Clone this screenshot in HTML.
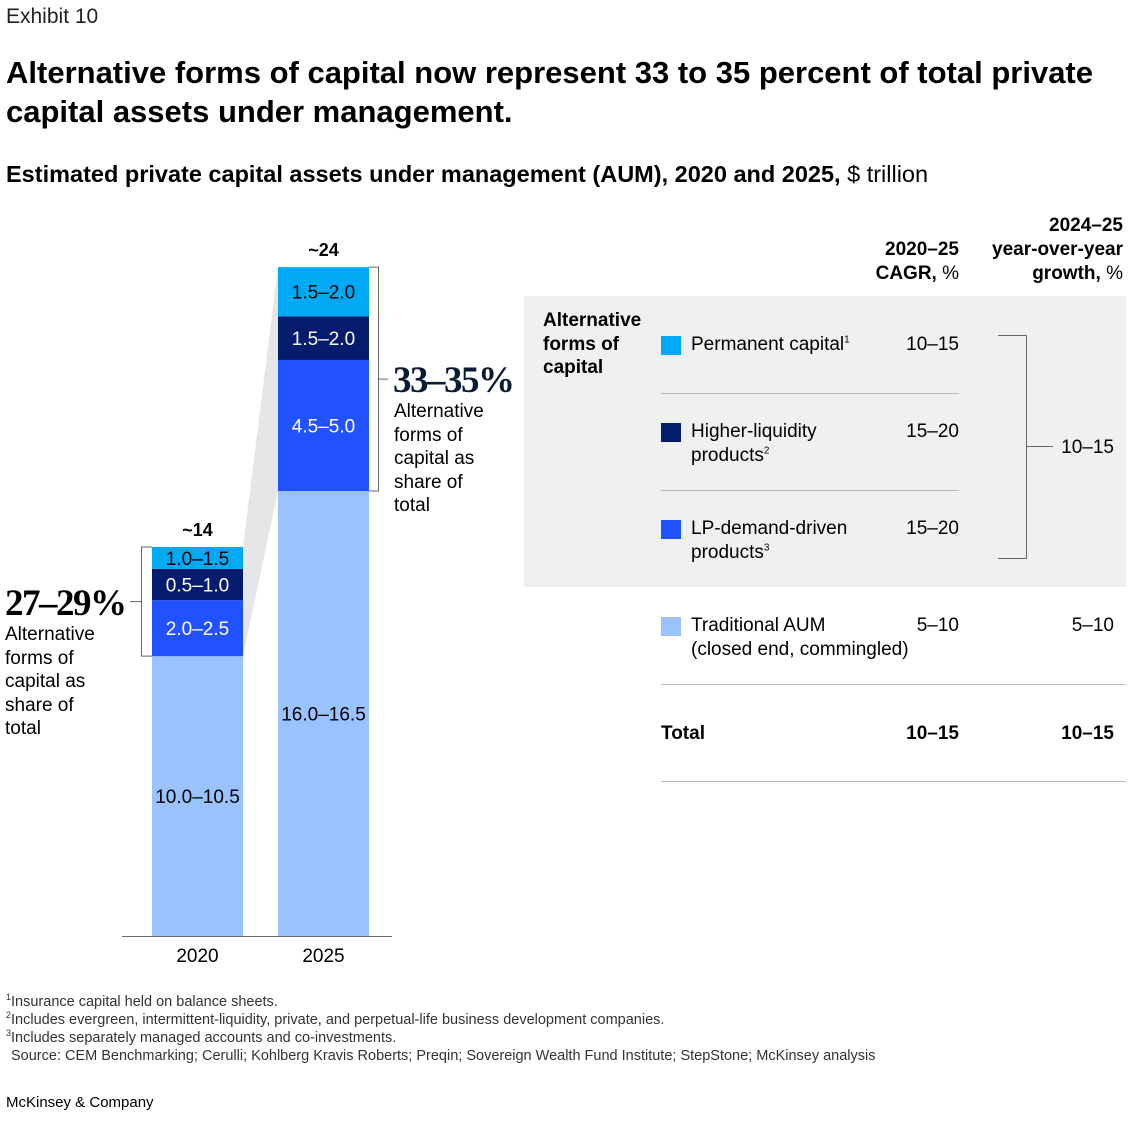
<!DOCTYPE html>
<html><head><meta charset="utf-8"><style>
body{margin:0;width:1138px;height:1124px;background:#fff;font-family:"Liberation Sans",sans-serif;color:#000;position:relative;overflow:hidden}
.a{position:absolute;white-space:nowrap}
.t{font-size:19px;line-height:24px}
.b{font-weight:bold}
.r{text-align:right}
.fn{font-size:14.5px;color:#333}
sup{line-height:0}
</style></head><body>
<div class="a" style="left:6px;top:5px;font-size:21px;color:#222">Exhibit 10</div>
<div class="a b" style="left:6px;top:53px;font-size:31px;line-height:39px;white-space:normal;width:1115px">Alternative forms of capital now represent 33 to 35 percent of total private capital assets under management.</div>
<div class="a" style="left:6px;top:161px;font-size:23.5px"><b>Estimated private capital assets under management (AUM), 2020 and 2025,</b> $ trillion</div>

<svg class="a" style="left:0;top:0" width="1138" height="1124" id="chart"></svg>

<div class="a" style="left:5px;top:582px;font-family:'Liberation Serif',serif;font-size:37px;font-weight:bold;letter-spacing:-1.5px">27–29%</div>
<div class="a t" style="left:5px;top:623px;line-height:23.5px">Alternative<br>forms of<br>capital as<br>share of<br>total</div>
<div class="a" style="left:393px;top:359px;font-family:'Liberation Serif',serif;font-size:37px;font-weight:bold;letter-spacing:-1.5px;color:#0b1a33">33–35%</div>
<div class="a t" style="left:394px;top:400px;line-height:23.5px">Alternative<br>forms of<br>capital as<br>share of<br>total</div>

<div class="a" style="left:524px;top:296px;width:602px;height:291px;background:#f0f0f0"></div>
<div class="a t b r" style="left:840px;top:238px;width:119px">2020–25<br>CAGR, <span style="font-weight:normal">%</span></div>
<div class="a t b r" style="left:960px;top:214px;width:163px">2024–25<br>year-over-year<br>growth, <span style="font-weight:normal">%</span></div>
<div class="a t b" style="left:543px;top:309px;line-height:23.5px">Alternative<br>forms of<br>capital</div>

<div class="a" style="left:661px;top:336px;width:20px;height:19px;background:#00a9f4"></div>
<div class="a t" style="left:691px;top:333px">Permanent capital<sup style="font-size:10px">1</sup></div>
<div class="a t r" style="left:860px;top:333px;width:99px">10–15</div>
<div class="a" style="left:661px;top:393px;width:298px;height:1px;background:#bbb"></div>

<div class="a" style="left:661px;top:423px;width:20px;height:19px;background:#051c6e"></div>
<div class="a t" style="left:691px;top:420px">Higher-liquidity<br>products<sup style="font-size:10px">2</sup></div>
<div class="a t r" style="left:860px;top:420px;width:99px">15–20</div>
<div class="a" style="left:661px;top:490px;width:298px;height:1px;background:#bbb"></div>

<div class="a" style="left:661px;top:520px;width:20px;height:19px;background:#2251ff"></div>
<div class="a t" style="left:691px;top:517px">LP-demand-driven<br>products<sup style="font-size:10px">3</sup></div>
<div class="a t r" style="left:860px;top:517px;width:99px">15–20</div>

<div class="a" style="left:998px;top:335px;width:28px;height:222px;border:1px solid #666;border-left:none"></div>
<div class="a" style="left:1027px;top:446px;width:26px;height:1px;background:#666"></div>
<div class="a t r" style="left:1030px;top:436px;width:84px">10–15</div>

<div class="a" style="left:661px;top:617px;width:20px;height:19px;background:#99c2ff"></div>
<div class="a t" style="left:691px;top:614px">Traditional AUM<br>(closed end, commingled)</div>
<div class="a t r" style="left:860px;top:614px;width:99px">5–10</div>
<div class="a t r" style="left:1000px;top:614px;width:114px">5–10</div>
<div class="a" style="left:661px;top:684px;width:465px;height:1px;background:#bbb"></div>
<div class="a t b" style="left:661px;top:722px">Total</div>
<div class="a t b r" style="left:860px;top:722px;width:99px">10–15</div>
<div class="a t b r" style="left:1000px;top:722px;width:114px">10–15</div>
<div class="a" style="left:661px;top:781px;width:465px;height:1px;background:#bbb"></div>

<div class="a fn" style="left:6px;top:994px"><sup style="font-size:9px">1</sup>Insurance capital held on balance sheets.</div>
<div class="a fn" style="left:6px;top:1012px"><sup style="font-size:9px">2</sup>Includes evergreen, intermittent-liquidity, private, and perpetual-life business development companies.</div>
<div class="a fn" style="left:6px;top:1030px"><sup style="font-size:9px">3</sup>Includes separately managed accounts and co-investments.</div>
<div class="a fn" style="left:11px;top:1048px">Source: CEM Benchmarking; Cerulli; Kohlberg Kravis Roberts; Preqin; Sovereign Wealth Fund Institute; StepStone; McKinsey analysis</div>
<div class="a" style="left:6px;top:1094px;font-size:15px">McKinsey &amp; Company</div>

<script>
const years = ['2020','2025'];
const totals = ['~14','~24'];
const traditional = [10.25, 16.3];
const lpDemand = [2.05, 4.8];
const higherLiq = [1.15, 1.6];
const permanent = [0.8, 1.8];
const labTrad = ['10.0–10.5','16.0–16.5'];
const labLp = ['2.0–2.5','4.5–5.0'];
const labHl = ['0.5–1.0','1.5–2.0'];
const labPc = ['1.0–1.5','1.5–2.0'];

const NS='http://www.w3.org/2000/svg';
const svg=document.getElementById('chart');
const base=936, scale=27.3, barW=91;
const xPos=i=>152+i*126;
const y=v=>base-v*scale;
function mk(tag,attrs){const e=document.createElementNS(NS,tag);for(const k in attrs)e.setAttribute(k,attrs[k]);svg.appendChild(e);return e;}
const s0=[traditional[0],traditional[0]+lpDemand[0]+higherLiq[0]+permanent[0]];
const s1=[traditional[1],traditional[1]+lpDemand[1]+higherLiq[1]+permanent[1]];
const poly=mk('polygon',{points:`${xPos(0)+barW},${y(s0[1])} ${xPos(1)},${y(s1[1])} ${xPos(1)},${y(s1[0])} ${xPos(0)+barW},${y(s0[0])}`,fill:'#e6e6e6'});


const series=[
 {v:traditional,c:'#99c2ff',tc:'#000',l:labTrad,n:'traditional'},
 {v:lpDemand,c:'#2251ff',tc:'#fff',l:labLp,n:'lp-demand'},
 {v:higherLiq,c:'#051c6e',tc:'#fff',l:labHl,n:'higher-liquidity'},
 {v:permanent,c:'#00a9f4',tc:'#000',l:labPc,n:'permanent'}];
years.forEach((yr,i)=>{
 let cum=0;const x=xPos(i);
 series.forEach(s=>{
  const v=s.v[i];
  const r=mk('rect',{x:x,y:y(cum+v),width:barW,height:v*scale,fill:s.c});
  
  
  const t=mk('text',{x:x+barW/2,y:y(cum+v/2)+7,'text-anchor':'middle','font-size':19,fill:s.tc,'font-family':'Liberation Sans'});
  t.textContent=s.l[i];
  
  
  cum+=v;
 });
 const tt=mk('text',{x:x+barW/2,y:y(cum)-11,'text-anchor':'middle','font-size':18,'font-weight':'bold','font-family':'Liberation Sans'});
 tt.textContent=totals[i];
 
 
 const xl=mk('text',{x:x+barW/2,y:base+26,'text-anchor':'middle','font-size':19,'font-family':'Liberation Sans'});
 xl.textContent=yr;
 
 
});
const ax=mk('line',{x1:122,x2:392,y1:base+0.5,y2:base+0.5,stroke:'#666','stroke-width':1});


const b0=mk('path',{d:`M${xPos(0)},${y(s0[1])} H141.5 V${y(s0[0])} H${xPos(0)} M141.5,${(y(s0[1])+y(s0[0]))/2} H130`,fill:'none',stroke:'#666'});


const b1=mk('path',{d:`M${xPos(1)+barW},${y(s1[1])} H378.5 V${y(s1[0])} H${xPos(1)+barW} M378.5,${(y(s1[1])+y(s1[0]))/2} H388`,fill:'none',stroke:'#666'});


</script>
</body></html>
